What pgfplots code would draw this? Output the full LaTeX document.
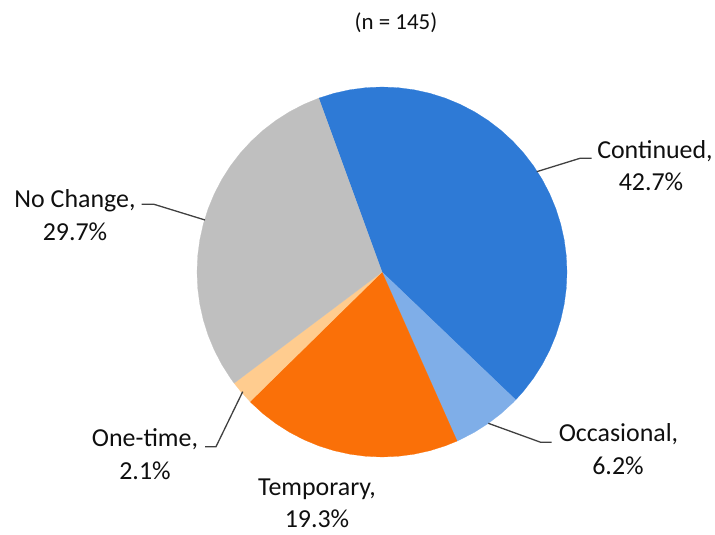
\documentclass[border=0pt]{standalone}
\usepackage{pgfplots}
\pgfplotsset{compat=1.18}
\usepackage{fontspec}
\setmainfont{Carlito}
\definecolor{cCont}{RGB}{46,122,214}
\definecolor{cOcc}{RGB}{127,174,232}
\definecolor{cTemp}{RGB}{250,112,8}
\definecolor{cOne}{RGB}{255,204,143}
\definecolor{cNo}{RGB}{191,191,191}
\definecolor{cTxt}{RGB}{15,15,15}
\definecolor{cLead}{RGB}{64,64,64}
\begin{document}
\begin{tikzpicture}
\begin{axis}[width=715bp, height=535bp, scale only axis, hide axis,
  xmin=-382, xmax=333, ymin=-263, ymax=272, clip=false,
  every axis plot/.append style={no marks}]
% Continued 42.7% : 110 -> -43.72
\addplot[fill=cCont, draw=cCont, line width=0.2pt, data cs=polar] coordinates {
(0,0) (110,185) (105,185) (100,185) (95,185) (90,185) (85,185) (80,185) (75,185)
(70,185) (65,185) (60,185) (55,185) (50,185) (45,185) (40,185) (35,185) (30,185)
(25,185) (20,185) (15,185) (10,185) (5,185) (0,185) (-5,185) (-10,185) (-15,185)
(-20,185) (-25,185) (-30,185) (-35,185) (-40,185) (-43.72,185) (0,0)};
% Occasional 6.2% : -43.72 -> -66.04
\addplot[fill=cOcc, draw=cOcc, line width=0.2pt, data cs=polar] coordinates {
(0,0) (-43.72,185) (-45,185) (-50,185) (-55,185) (-60,185) (-65,185) (-66.04,185) (0,0)};
% Temporary 19.3% : -66.04 -> -135.52
\addplot[fill=cTemp, draw=cTemp, line width=0.2pt, data cs=polar] coordinates {
(0,0) (-66.04,185) (-70,185) (-75,185) (-80,185) (-85,185) (-90,185) (-95,185)
(-100,185) (-105,185) (-110,185) (-115,185) (-120,185) (-125,185) (-130,185)
(-135,185) (-135.52,185) (0,0)};
% One-time 2.1% : -135.52 -> -143.08
\addplot[fill=cOne, draw=cOne, line width=0.2pt, data cs=polar] coordinates {
(0,0) (-135.52,185) (-140,185) (-143.08,185) (0,0)};
% No Change 29.7% : -143.08 -> -250
\addplot[fill=cNo, draw=cNo, line width=0.2pt, data cs=polar] coordinates {
(0,0) (-143.08,185) (-145,185) (-150,185) (-155,185) (-160,185) (-165,185)
(-170,185) (-175,185) (-180,185) (-185,185) (-190,185) (-195,185) (-200,185)
(-205,185) (-210,185) (-215,185) (-220,185) (-225,185) (-230,185) (-235,185)
(-240,185) (-245,185) (-250,185) (0,0)};
% leader lines
\addplot[cLead, line width=1.3pt] coordinates {(154.7,100.3) (198,113.7) (209.7,113.7)};
\addplot[cLead, line width=1.3pt] coordinates {(-240.3,67.7) (-228,67.7) (-177,52)};
\addplot[cLead, line width=1.3pt] coordinates {(106.3,-151.3) (158.7,-170.3) (169.7,-170.3)};
\addplot[cLead, line width=1.3pt] coordinates {(-139.3,-119.7) (-166,-174.7) (-177,-174.7)};
% labels
\tikzset{lab/.style={anchor=base, inner sep=0pt, text=cTxt, font=\fontsize{26}{31}\selectfont}}
\node[lab] at (axis cs:273,113.5) {Continued,};
\node[lab] at (axis cs:269,81) {42.7\%};
\node[lab] at (axis cs:-307,64.6) {No Change,};
\node[lab] at (axis cs:-307,31.6) {29.7\%};
\node[lab] at (axis cs:236.5,-169.5) {Occasional,};
\node[lab] at (axis cs:236,-202.5) {6.2\%};
\node[lab] at (axis cs:-237,-175) {One-time,};
\node[lab] at (axis cs:-237,-207.5) {2.1\%};
\node[lab] at (axis cs:-65,-224) {Temporary,};
\node[lab] at (axis cs:-65,-255) {19.3\%};
\node[anchor=base, inner sep=0pt, text=cTxt, font=\fontsize{23}{28}\selectfont] at (axis cs:14,242.5) {(n = 145)};
\end{axis}
\path (current axis.south west) rectangle (current axis.north east);
\end{tikzpicture}
\end{document}
